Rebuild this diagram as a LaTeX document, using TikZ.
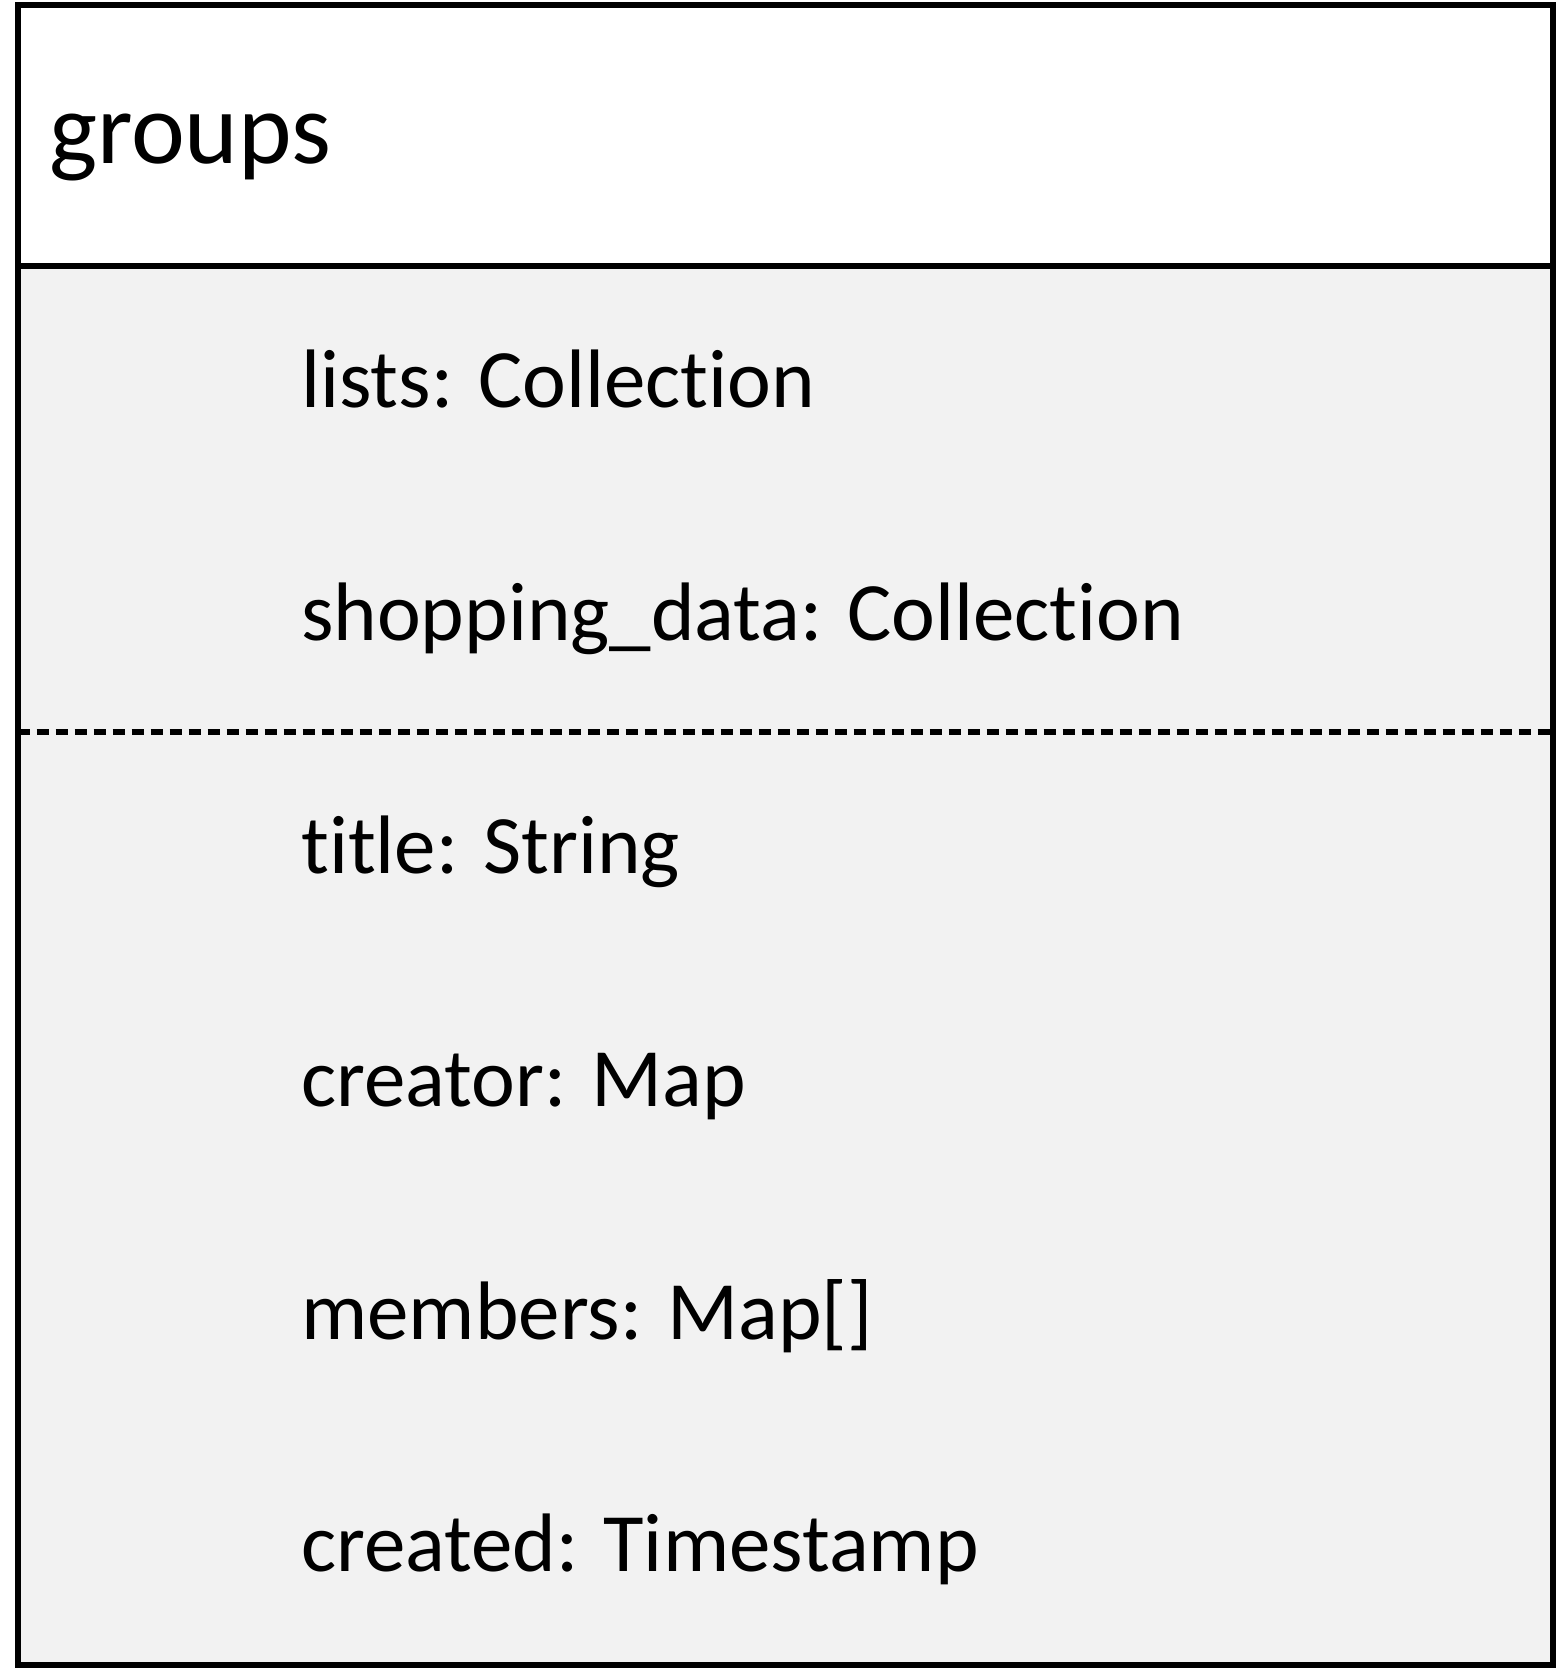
\documentclass[tikz,border=0pt]{standalone}
\usepackage{fontspec}
\setmainfont[Ligatures={NoCommon}]{Carlito}
\definecolor{bodygray}{HTML}{F2F2F2}
\tikzset{
  border/.style={draw=black, line width=6pt},
  sep/.style={draw=black, line width=6pt, dash pattern=on 12.3pt off 6.7pt},
  attr/.style={anchor=base west, inner sep=0pt, font=\fontsize{83}{99}\selectfont},
  title/.style={anchor=base west, inner sep=0pt, font=\fontsize{102}{122}\selectfont}
}
\begin{document}
\begin{tikzpicture}[x=1pt,y=-1pt]
\useasboundingbox (0,0) rectangle (1556,1669);
% compartments
\fill[white] (17.5,5) rectangle (1552.5,266);
\fill[bodygray] (17.5,266) rectangle (1552.5,1665);
% separators
\draw[sep] (17.5,732) -- (1552.5,732);
\draw[border] (17.5,266) -- (1552.5,266);
\draw[border] (17.5,5) rectangle (1552.5,1665);
% texts
\node[title] (name) at (49,164) {groups};
\node[attr] (a1) at (301,407) {lists: Collection};
\node[attr] (a2) at (301,640) {shopping\_data: Collection};
\node[attr] (a3) at (301,873.5) {title: String};
\node[attr] (a4) at (301,1106.5) {creator: Map};
\node[attr] (a5) at (301,1339) {members: Map[]};
\node[attr] (a6) at (301,1571) {created: Timestamp};
\end{tikzpicture}
\end{document}
